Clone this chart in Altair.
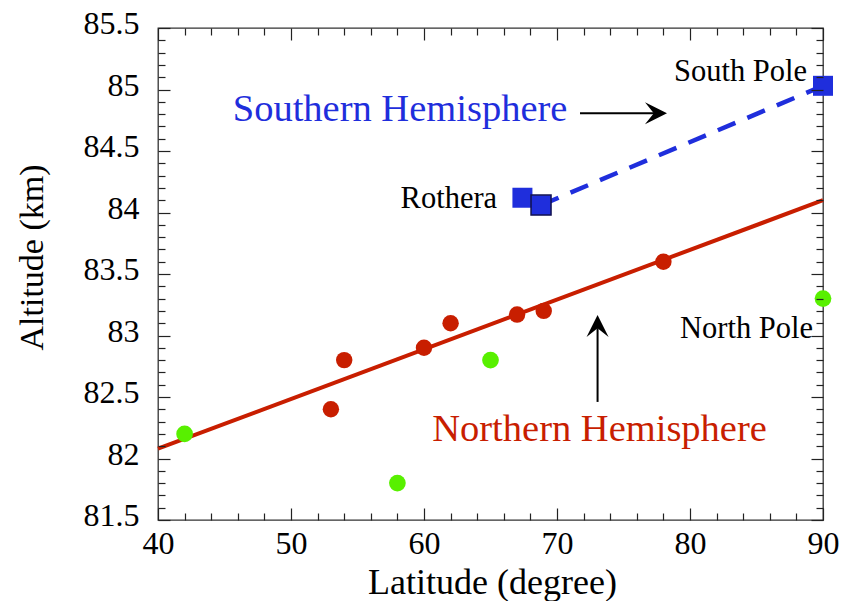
import altair as alt
import pandas as pd

# ---------------- data ----------------
red_lat = [53, 54, 60, 62, 67, 69, 78]
red_alt = [82.4, 82.8, 82.9, 83.1, 83.17, 83.2, 83.6]

green_lat = [42, 58, 65, 90]
green_alt = [82.2, 81.8, 82.8, 83.3]

south_lat = [67.4, 68.8, 90]
south_alt = [84.12, 84.06, 85.03]
south_edge = [0, 1, 0]

fit_lat = [40, 90]
fit_alt = [82.08, 84.10]

dash_lat = [68.8, 90]
dash_alt = [84.06, 85.03]

site_text = ["South Pole", "Rothera", "North Pole"]
site_lat = [88.8, 65.5, 89.25]
site_alt = [85.07, 84.04, 82.98]

hemi_text = ["Southern Hemisphere", "Northern Hemisphere"]
hemi_lat = [58.2, 73.2]
hemi_alt = [84.74, 82.145]
hemi_key = ["S", "N"]

shaft_lat0 = [71.73, 73.05]
shaft_lat1 = [77.3, 73.05]
shaft_alt0 = [84.806, 82.46]
shaft_alt1 = [84.806, 83.06]

head_lat = [78.27, 73.05]
head_alt = [84.806, 83.167]
head_angle = [90, 0]

x_major = [40, 50, 60, 70, 80, 90]
x_minor = [42, 44, 46, 48, 52, 54, 56, 58, 62, 64, 66, 68,
           72, 74, 76, 78, 82, 84, 86, 88]
y_major = [81.5, 82.0, 82.5, 83.0, 83.5, 84.0, 84.5, 85.0, 85.5]
y_minor = [81.6, 81.7, 81.8, 81.9, 82.1, 82.2, 82.3, 82.4,
           82.6, 82.7, 82.8, 82.9, 83.1, 83.2, 83.3, 83.4,
           83.6, 83.7, 83.8, 83.9, 84.1, 84.2, 84.3, 84.4,
           84.6, 84.7, 84.8, 84.9, 85.1, 85.2, 85.3, 85.4]

# ---------------- styles ----------------
FONT = "Liberation Serif"
RED = "#C81E00"
GREEN = "#58F000"
BLUE = "#1F2EDC"
TICK = "#222222"

xs = alt.Scale(domain=[40, 90], nice=False, zero=False)
ys = alt.Scale(domain=[81.5, 85.5], nice=False, zero=False)


def axis(orient, values, size, **kw):
    opts = dict(orient=orient, values=values, tickSize=size, offset=-size,
                domain=False, grid=False, ticks=True, tickColor=TICK,
                tickWidth=1.2, labels=False, title=None, zindex=1)
    opts.update(kw)
    return alt.Axis(**opts)


def X(field, ax=None):
    if ax is None:
        return alt.X(field, type="quantitative", scale=xs, axis=None)
    return alt.X(field, type="quantitative", scale=xs, axis=ax)


def Y(field, ax=None):
    if ax is None:
        return alt.Y(field, type="quantitative", scale=ys, axis=None)
    return alt.Y(field, type="quantitative", scale=ys, axis=ax)


bottom_major = axis("bottom", x_major, 12, labels=True, labelFont=FONT,
                    labelFontSize=32, labelColor="black", labelPadding=8,
                    labelFlush=False, labelOverlap=False, format="d",
                    title="Latitude (degree)", titleFont=FONT,
                    titleFontSize=36, titleFontWeight="normal",
                    titleColor="black", titleX=334, titleY=85,
                    titleBaseline="alphabetic", titleAlign="center")
left_major = axis("left", y_major, 12, labels=True, labelFont=FONT,
                  labelFontSize=32, labelColor="black", labelPadding=19,
                  labelOffset=-4.5, labelOverlap=False, format=".1~f",
                  title="Altitude (km)", titleFont=FONT, titleFontSize=34,
                  titleFontWeight="normal", titleColor="black",
                  titleAngle=270, titleX=-128, titleY=229,
                  titleBaseline="alphabetic", titleAlign="center")

fit_df = pd.DataFrame({"lat": fit_lat, "alt": fit_alt})
dash_df = pd.DataFrame({"lat": dash_lat, "alt": dash_alt})
red_df = pd.DataFrame({"lat": red_lat, "alt": red_alt})
green_df = pd.DataFrame({"lat": green_lat, "alt": green_alt})
south_df = pd.DataFrame({"lat": south_lat, "alt": south_alt, "edge": south_edge})
site_df = pd.DataFrame({"lat": site_lat, "alt": site_alt, "text": site_text})
hemi_df = pd.DataFrame({"lat": hemi_lat, "alt": hemi_alt, "text": hemi_text,
                        "key": hemi_key})
shaft_df = pd.DataFrame({"lat0": shaft_lat0, "lat1": shaft_lat1,
                         "alt0": shaft_alt0, "alt1": shaft_alt1})
head_df = pd.DataFrame({"lat": head_lat, "alt": head_alt, "ang": head_angle})

fit_line = alt.Chart(fit_df).mark_line(color=RED, strokeWidth=4).encode(
    x=X("lat", bottom_major), y=Y("alt", left_major))

dash_line = alt.Chart(dash_df).mark_line(
    color=BLUE, strokeWidth=4.5, strokeDash=[19, 13]).encode(
    x=X("lat"), y=Y("alt"))

green_pts = alt.Chart(green_df).mark_circle(
    color=GREEN, size=280, opacity=1).encode(
    x=X("lat", axis("bottom", x_minor, 7)),
    y=Y("alt", axis("left", y_minor, 7)))

red_pts = alt.Chart(red_df).mark_circle(
    color=RED, size=270, opacity=1).encode(
    x=X("lat", axis("top", x_major, 12)),
    y=Y("alt", axis("right", y_major, 12)))

squares = alt.Chart(south_df).mark_square(
    color=BLUE, size=400, opacity=1, stroke="#121250").encode(
    x=X("lat", axis("top", x_minor, 7)),
    y=Y("alt", axis("right", y_minor, 7)),
    strokeWidth=alt.condition("datum.edge == 1", alt.value(1.5), alt.value(0)))

site_txt = alt.Chart(site_df).mark_text(
    font=FONT, fontSize=30.5, align="right", baseline="alphabetic",
    color="black").encode(x=X("lat"), y=Y("alt"), text="text:N")

hemi_txt = alt.Chart(hemi_df).mark_text(
    font=FONT, fontSize=38.5, align="center", baseline="alphabetic").encode(
    x=X("lat"), y=Y("alt"), text="text:N",
    color=alt.Color("key:N", scale=alt.Scale(domain=["S", "N"], range=[BLUE, RED]),
                    legend=None))

shafts = alt.Chart(shaft_df).mark_rule(color="black", strokeWidth=2).encode(
    x=X("lat0"), x2="lat1", y=Y("alt0"), y2="alt1")

heads = alt.Chart(head_df).mark_point(
    shape="M 0 0 L 1 2 L 0 1.2 L -1 2 Z", filled=True, size=484,
    color="black", opacity=1).encode(
    x=X("lat"), y=Y("alt"), angle=alt.Angle("ang:Q", scale=None))

chart = alt.layer(
    fit_line, dash_line, green_pts, red_pts, squares,
    site_txt, hemi_txt, shafts, heads
).resolve_axis(x="independent", y="independent").properties(
    width=665, height=492,
    autosize=alt.AutoSizeParams(type="none"),
    padding={"left": 158, "top": 28, "right": 19, "bottom": 81},
    background="white",
).configure_view(stroke="#333333", strokeWidth=1.3)

chart.save("out.html", embed_options={"renderer": "svg", "actions": False})
